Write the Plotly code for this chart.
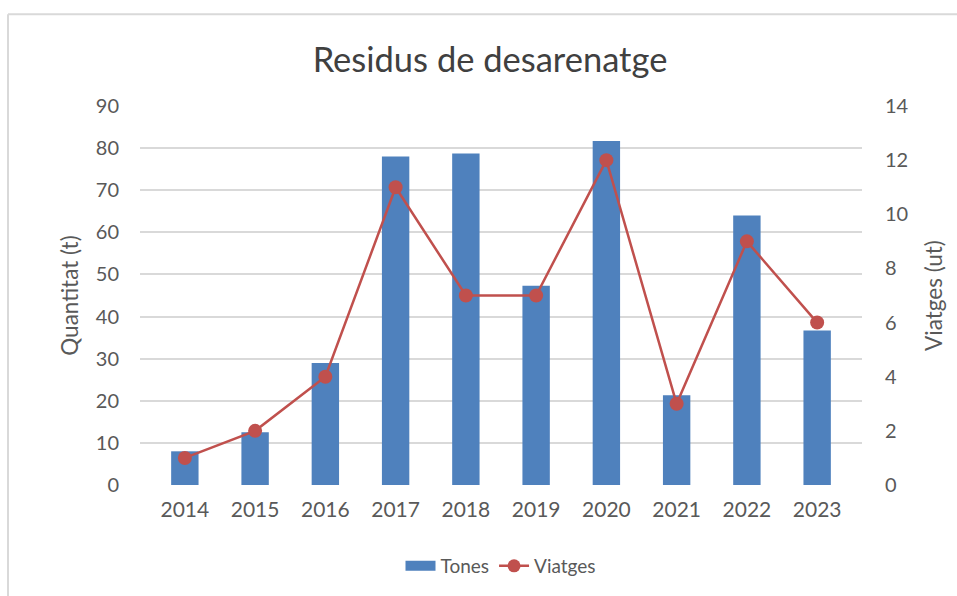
import plotly.graph_objects as go

years = ["2014", "2015", "2016", "2017", "2018", "2019", "2020", "2021", "2022", "2023"]
tones = [8, 12.5, 29, 78, 78.7, 47.3, 81.7, 21.3, 64, 36.7]
viatges = [1, 2, 4, 11, 7, 7, 12, 3, 9, 6]
left_ticks = [0, 10, 20, 30, 40, 50, 60, 70, 80, 90]
right_ticks = [0, 2, 4, 6, 8, 10, 12, 14]

FONT = "Lato"
TXT = "#595959"
BLUE = "#4F81BD"
RED = "#C0504D"

W, H = 957, 596
L, R, T, B = 140, 95, 106, 110
pw, ph = W - L - R, H - T - B

fig = go.Figure()
fig.add_trace(go.Bar(x=years, y=tones, name="Tones", marker_color=BLUE,
                     marker_line_width=0, width=0.39, yaxis="y", showlegend=False))
fig.add_trace(go.Scatter(x=years, y=viatges, name="Viatges", mode="lines+markers",
                         line=dict(color=RED, width=2.5),
                         marker=dict(color=RED, size=14), yaxis="y2", showlegend=False))
# legend entries
fig.add_trace(go.Scatter(x=[None], y=[None], name="Tones", mode="lines",
                         line=dict(color=BLUE, width=11), showlegend=True))
fig.add_trace(go.Scatter(x=[None], y=[None], name="Viatges", mode="lines+markers",
                         line=dict(color=RED, width=2.5), marker=dict(color=RED, size=13),
                         showlegend=True))

bx0 = (8 - L) / pw
bx1 = (W + 40 - L) / pw
by0 = -(B + 40) / ph
by1 = 1 + (T - 14) / ph

fig.update_layout(
    width=W, height=H,
    margin=dict(l=L, r=R, t=T, b=B),
    paper_bgcolor="white", plot_bgcolor="white",
    font=dict(family=FONT, color=TXT),
    title=dict(text="Residus de desarenatge", x=490 / W, xanchor="center", xref="container",
               y=1 - 60 / H, yanchor="middle", yref="container",
               font=dict(size=34.5, color="#404040", family=FONT)),
    xaxis=dict(showgrid=False, showline=False, ticks="", tickfont=dict(size=21, color=TXT),
               ticklabelstandoff=10),
    yaxis=dict(range=[0, 90], tickvals=left_ticks, showgrid=True, gridcolor="#D9D9D9", gridwidth=1.5,
               zeroline=False, tickfont=dict(size=20, color=TXT), ticklabelstandoff=20,
               title=dict(text="Quantitat (t)", font=dict(size=22.5, color=TXT), standoff=10)),
    yaxis2=dict(range=[0, 14], tickvals=right_ticks, overlaying="y", side="right", showgrid=False,
                zeroline=False, tickfont=dict(size=20, color=TXT), ticklabelstandoff=22,
                title=dict(text="Viatges (ut)", font=dict(size=22.5, color=TXT), standoff=18)),
    legend=dict(orientation="h", x=0.5, xanchor="center", y=-(566 - 486) / ph, yanchor="middle",
                font=dict(size=19, color=TXT), traceorder="normal"),
    shapes=[
        dict(type="line", xref="paper", yref="paper", x0=bx0, x1=bx0, y0=by0, y1=by1,
             line=dict(color="#D9D9D9", width=2), layer="below"),
        dict(type="line", xref="paper", yref="paper", x0=bx0, x1=bx1, y0=by1, y1=by1,
             line=dict(color="#D9D9D9", width=2), layer="below"),
    ],
)

fig.write_html(
    "out.html",
    config={"displayModeBar": False},
    post_script="document.body.style.margin='0';document.body.style.overflow='hidden';"
                "document.documentElement.style.overflow='hidden';",
)
